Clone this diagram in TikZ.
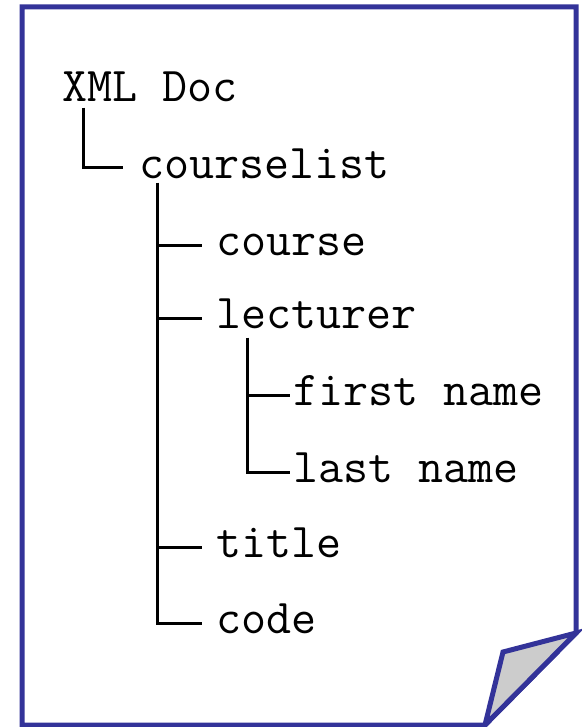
\documentclass[tikz,border=0pt]{standalone}
\usepackage{fontspec}
\usetikzlibrary{calc}
\definecolor{docblue}{RGB}{51,51,153}
\definecolor{foldgray}{RGB}{204,204,204}
\begin{document}
\begin{tikzpicture}[x=1pt,y=-1pt,
  lbl/.style={anchor=west, inner sep=0pt, font=\ttfamily\fontsize{48.6}{56}\selectfont, text height=21pt, text depth=0pt},
  branch/.style={line width=3pt, draw=black},
  docline/.style={line width=5pt, draw=docblue, line join=miter}]
\useasboundingbox (0,0) rectangle (581,727);
\fill[white] (0,0) rectangle (581,727);
% page outline
\draw[docline, fill=white] (22,7) -- (576,7) -- (576,633) coordinate (fa) -- (485,725) coordinate (fc) -- (22,725) -- cycle;
\coordinate (fb) at (503,652);
\draw[docline, fill=foldgray] (fa) -- (fb) -- (fc) -- cycle;
% labels
\node[lbl] (xml) at (62,91) {XML Doc};
\node[lbl] (cl) at (139,168) {courselist};
\node[lbl] (course) at (216,245) {course};
\node[lbl] (lect) at (216,318) {lecturer};
\node[lbl] (first) at (293,395) {first name};
\node[lbl] (last) at (293,472) {last name};
\node[lbl] (title) at (216,547) {title};
\node[lbl] (code) at (216,623) {code};
% connectors
\draw[branch] ($(xml.south west)+(21,6)$) |- ($(cl.west)+(-16,0)$);
\coordinate (clroot) at ($(cl.south west)+(18,4)$);
\draw[branch] (clroot) |- ($(code.west)+(-14,0)$);
\draw[branch] (clroot |- course.west) -- ($(course.west)+(-14,0)$);
\draw[branch] (clroot |- lect.west) -- ($(lect.west)+(-14,0)$);
\draw[branch] (clroot |- title.west) -- ($(title.west)+(-14,0)$);
\coordinate (lroot) at ($(lect.south west)+(31,9)$);
\draw[branch] (lroot) |- ($(last.west)+(-3,0)$);
\draw[branch] (lroot |- first.west) -- ($(first.west)+(-3,0)$);
\end{tikzpicture}
\end{document}
